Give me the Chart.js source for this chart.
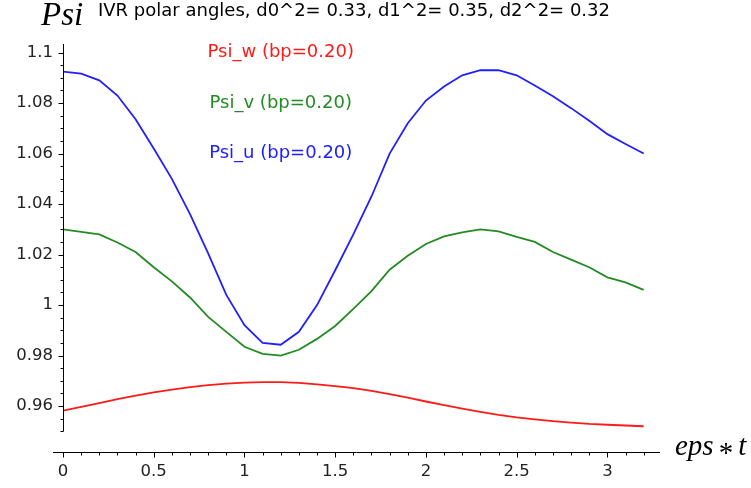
<!DOCTYPE html>
<html>
<head>
<meta charset="utf-8">
<script src="https://cdn.jsdelivr.net/npm/chart.js@4"></script>
<style>
    html, body { margin: 0; padding: 0; background: #fff; }
    #psiChart { display: block; }
</style>
</head>
<body>
<canvas id="psiChart" width="751" height="488"></canvas>
<script>
// values (eps*t step 0.1)
const epsT = [0, 0.1, 0.2, 0.3, 0.4, 0.5, 0.6, 0.7, 0.8, 0.9, 1.0, 1.1, 1.2, 1.3, 1.4, 1.5,
    1.6, 1.7, 1.8, 1.9, 2.0, 2.1, 2.2, 2.3, 2.4, 2.5, 2.6, 2.7, 2.8, 2.9, 3.0, 3.1, 3.2];

const psiW = [0.9582, 0.9597, 0.9612, 0.9627, 0.9641, 0.9654, 0.9665, 0.9675, 0.9683, 0.9689,
    0.9693, 0.9695, 0.9695, 0.9692, 0.9686, 0.9679, 0.9671, 0.9660, 0.9647, 0.9633, 0.9618,
    0.9604, 0.9590, 0.9577, 0.9565, 0.9555, 0.9547, 0.9540, 0.9534, 0.9529, 0.9526, 0.9523, 0.9520];

const psiV = [1.030, 1.029, 1.028, 1.0248, 1.021, 1.015, 1.0094, 1.003, 0.9953, 0.9894,
    0.9835, 0.9807, 0.9800, 0.9823, 0.9866, 0.9917, 0.9985, 1.0055, 1.014, 1.0195, 1.0242,
    1.0272, 1.0288, 1.030, 1.0292, 1.027, 1.025, 1.021, 1.018, 1.015, 1.011, 1.009, 1.006];

const psiU = [1.0925, 1.0917, 1.089, 1.083, 1.0736, 1.062, 1.050, 1.036, 1.0205, 1.004,
    0.992, 0.985, 0.9843, 0.9894, 1.000, 1.0138, 1.028, 1.043, 1.060, 1.072, 1.081,
    1.0866, 1.091, 1.093, 1.093, 1.091, 1.087, 1.0827, 1.078, 1.073, 1.0677, 1.0638, 1.060];

const seriesNames = ['Psi_w (bp=0.20)', 'Psi_v (bp=0.20)', 'Psi_u (bp=0.20)'];
const seriesColors = ['#ff1a1a', '#228b22', '#2020ff'];
// where the sage text() labels sit, in data coordinates
const labelX = 1.2;
const labelY = [1.1, 1.08, 1.06];

const titleText = 'IVR polar angles, d0^2= 0.33, d1^2= 0.35, d2^2= 0.32';
const yAxisLabel = 'Psi';
const xAxisLabel = ['eps', '*', 't'];

// extent of the drawn axis lines
const yAxisRange = [0.95, 1.1034];
const xAxisRange = [-0.055, 3.29];

function isMultiple(v, step) {
    const r = v / step;
    return Math.abs(r - Math.round(r)) < 1e-6;
}

function fmt(v) {
    return String(parseFloat(v.toFixed(3)));
}

function toPoints(values) {
    return epsT.map((t, i) => ({ x: t, y: values[i] }));
}

// sage style axes: lines, ticks, axis labels, text labels, title
const sageAxes = {
    id: 'sageAxes',
    afterDraw(chart) {
        const ctx = chart.ctx;
        const x = chart.scales.x;
        const y = chart.scales.y;
        const x0 = Math.round(x.getPixelForValue(0)) + 0.5;
        const yb = Math.round(chart.chartArea.bottom) + 0.5;

        ctx.save();
        ctx.strokeStyle = '#000';
        ctx.lineWidth = 1;
        ctx.beginPath();
        // y axis
        ctx.moveTo(x0, y.getPixelForValue(yAxisRange[0]));
        ctx.lineTo(x0, y.getPixelForValue(yAxisRange[1]));
        // x axis
        ctx.moveTo(x.getPixelForValue(xAxisRange[0]), yb);
        ctx.lineTo(x.getPixelForValue(xAxisRange[1]), yb);

        y.ticks.forEach(t => {
            if (t.value < yAxisRange[0] - 1e-9) return;
            const py = Math.round(y.getPixelForValue(t.value)) + 0.5;
            const len = isMultiple(t.value, 0.02) ? 5 : 3;
            ctx.moveTo(x0 - len, py);
            ctx.lineTo(x0, py);
        });
        x.ticks.forEach(t => {
            const px = Math.round(x.getPixelForValue(t.value)) + 0.5;
            const len = isMultiple(t.value, 0.5) ? 5 : 3;
            ctx.moveTo(px, yb);
            ctx.lineTo(px, yb + len);
        });
        ctx.stroke();

        // text labels in data coordinates
        ctx.font = '18px "DejaVu Sans"';
        ctx.textAlign = 'center';
        ctx.textBaseline = 'middle';
        seriesNames.forEach((name, i) => {
            ctx.fillStyle = seriesColors[i];
            ctx.fillText(name, x.getPixelForValue(labelX), y.getPixelForValue(labelY[i]));
        });

        // title
        ctx.fillStyle = '#000';
        ctx.font = '18px "DejaVu Sans"';
        ctx.textAlign = 'left';
        ctx.fillText(titleText, 98, 11);

        // axis labels
        ctx.textBaseline = 'alphabetic';
        ctx.font = 'italic 33px "Liberation Serif"';
        ctx.fillText(yAxisLabel, 41, 25);

        ctx.font = 'italic 29px "Liberation Serif"';
        let px = 675;
        ctx.fillText(xAxisLabel[0], px, 455);
        px += ctx.measureText(xAxisLabel[0]).width + 5;
        ctx.font = '29px "Liberation Serif"';
        ctx.fillText(xAxisLabel[1], px, 462);
        px += ctx.measureText(xAxisLabel[1]).width + 5;
        ctx.font = 'italic 29px "Liberation Serif"';
        ctx.fillText(xAxisLabel[2], px, 455);
        ctx.restore();
    }
};

const ctx = document.getElementById('psiChart').getContext('2d');

new Chart(ctx, {
    type: 'line',
    data: {
        datasets: [psiW, psiV, psiU].map((values, i) => ({
            label: seriesNames[i],
            data: toPoints(values),
            borderColor: seriesColors[i],
            borderWidth: 1.8,
            pointRadius: 0,
            tension: 0,
            fill: false
        }))
    },
    options: {
        responsive: false,
        animation: false,
        devicePixelRatio: 1,
        layout: {
            padding: { top: 44, right: 91, left: 0, bottom: 0 }
        },
        plugins: {
            legend: { display: false },
            title: { display: false },
            tooltip: { enabled: false }
        },
        scales: {
            x: {
                type: 'linear',
                min: 0,
                max: 3.29,
                grid: { display: false, drawTicks: false },
                border: { display: false },
                ticks: {
                    stepSize: 0.1,
                    includeBounds: false,
                    autoSkip: false,
                    maxRotation: 0,
                    padding: 10,
                    color: '#222',
                    font: { family: 'DejaVu Sans', size: 16.5 },
                    callback: v => isMultiple(v, 0.5) ? fmt(v) : ''
                },
                afterFit: scale => { scale.height = 36; }
            },
            y: {
                min: 0.9418,
                max: 1.1034,
                grid: { display: false, drawTicks: false },
                border: { display: false },
                ticks: {
                    stepSize: 0.005,
                    includeBounds: false,
                    autoSkip: false,
                    padding: 10,
                    color: '#222',
                    font: { family: 'DejaVu Sans', size: 16.5 },
                    callback: v => (v >= yAxisRange[0] - 1e-9 && isMultiple(v, 0.02)) ? fmt(v) : ''
                },
                afterFit: scale => { scale.width = 63; }
            }
        }
    },
    plugins: [sageAxes]
});
</script>
</body>
</html>
